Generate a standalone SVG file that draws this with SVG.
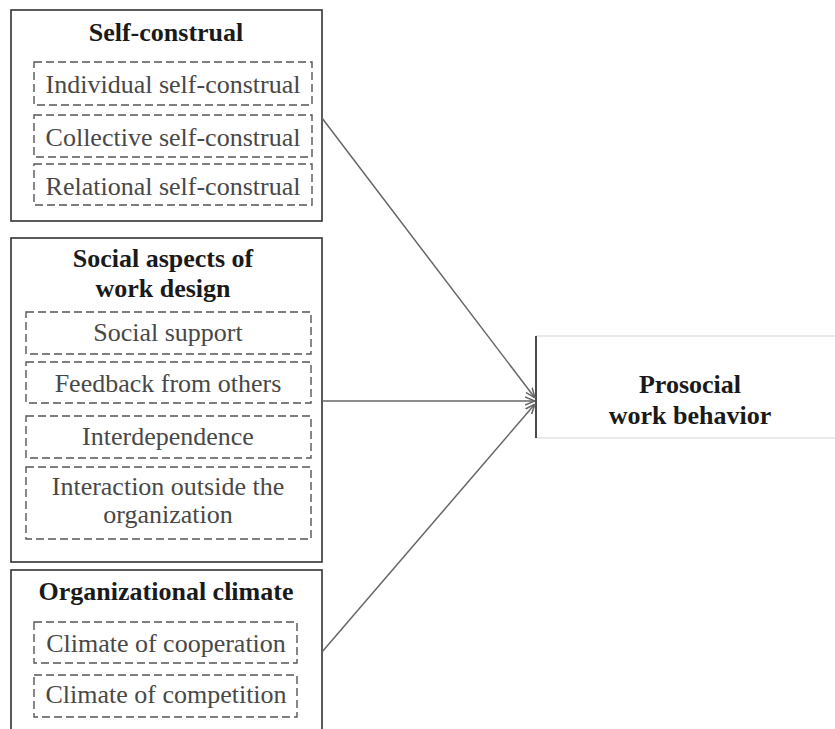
<svg xmlns="http://www.w3.org/2000/svg" width="835" height="729" viewBox="0 0 835 729">
  <style>
    .frame { fill: #fff; stroke: #333; stroke-width: 1.6; }
    .item { fill: none; stroke: #555; stroke-width: 1.4; stroke-dasharray: 8 4; }
    text { font-family: 'Liberation Serif', 'DejaVu Serif', serif; text-anchor: middle; }
    .title { font-size: 26px; font-weight: bold; fill: #1a1a1a; }
    .label { font-size: 26px; fill: #484848; }
    .link { stroke: #666; stroke-width: 1.5; fill: none; marker-end: url(#head); }
  </style>
  <defs>
    <marker id="head" viewBox="0 0 10 10" refX="10" refY="5" markerWidth="10" markerHeight="10" markerUnits="userSpaceOnUse" orient="auto">
      <path d="M0,1 L10,5 L0,9" fill="none" stroke="#666" stroke-width="1.5"/>
    </marker>
  </defs>
  <rect width="835" height="729" fill="#fff"/>

  <g id="self-construal">
    <rect class="frame" x="11" y="10" width="311" height="211"/>
    <text class="title" x="166" y="41">Self-construal</text>
    <rect class="item" x="34" y="62" width="278" height="43"/>
    <text class="label" x="173" y="93">Individual self-construal</text>
    <rect class="item" x="34" y="115" width="278" height="42"/>
    <text class="label" x="173" y="146">Collective self-construal</text>
    <rect class="item" x="34" y="164" width="278" height="41"/>
    <text class="label" x="173" y="195">Relational self-construal</text>
  </g>

  <g id="social-aspects">
    <rect class="frame" x="11" y="238" width="311" height="324"/>
    <text class="title" x="163" y="267">Social aspects of</text>
    <text class="title" x="163" y="297">work design</text>
    <rect class="item" x="26" y="312" width="285" height="42"/>
    <text class="label" x="168" y="341">Social support</text>
    <rect class="item" x="26" y="362" width="285" height="41"/>
    <text class="label" x="168" y="392">Feedback from others</text>
    <rect class="item" x="26" y="416" width="285" height="42"/>
    <text class="label" x="168" y="445">Interdependence</text>
    <rect class="item" x="26" y="467" width="285" height="72"/>
    <text class="label" x="168" y="495">Interaction outside the</text>
    <text class="label" x="168" y="523">organization</text>
  </g>

  <g id="organizational-climate">
    <rect class="frame" x="11" y="570" width="311" height="175"/>
    <text class="title" x="166" y="600">Organizational climate</text>
    <rect class="item" x="34" y="622" width="263" height="41"/>
    <text class="label" x="166" y="652">Climate of cooperation</text>
    <rect class="item" x="34" y="675" width="263" height="42"/>
    <text class="label" x="166" y="703">Climate of competition</text>
  </g>

  <g id="prosocial-behavior">
    <rect x="536" y="336" width="305" height="102" fill="#fff" stroke="#ddd" stroke-width="1.2"/>
    <line x1="536" y1="336" x2="536" y2="438" stroke="#222" stroke-width="1.6"/>
    <text class="title" x="690" y="393">Prosocial</text>
    <text class="title" x="690" y="424">work behavior</text>
  </g>

  <g id="connectors">
    <line class="link" x1="322" y1="118" x2="535" y2="398"/>
    <line class="link" x1="322" y1="401" x2="535" y2="401" stroke="#333"/>
    <line class="link" x1="322" y1="652" x2="535" y2="404"/>
  </g>
</svg>
